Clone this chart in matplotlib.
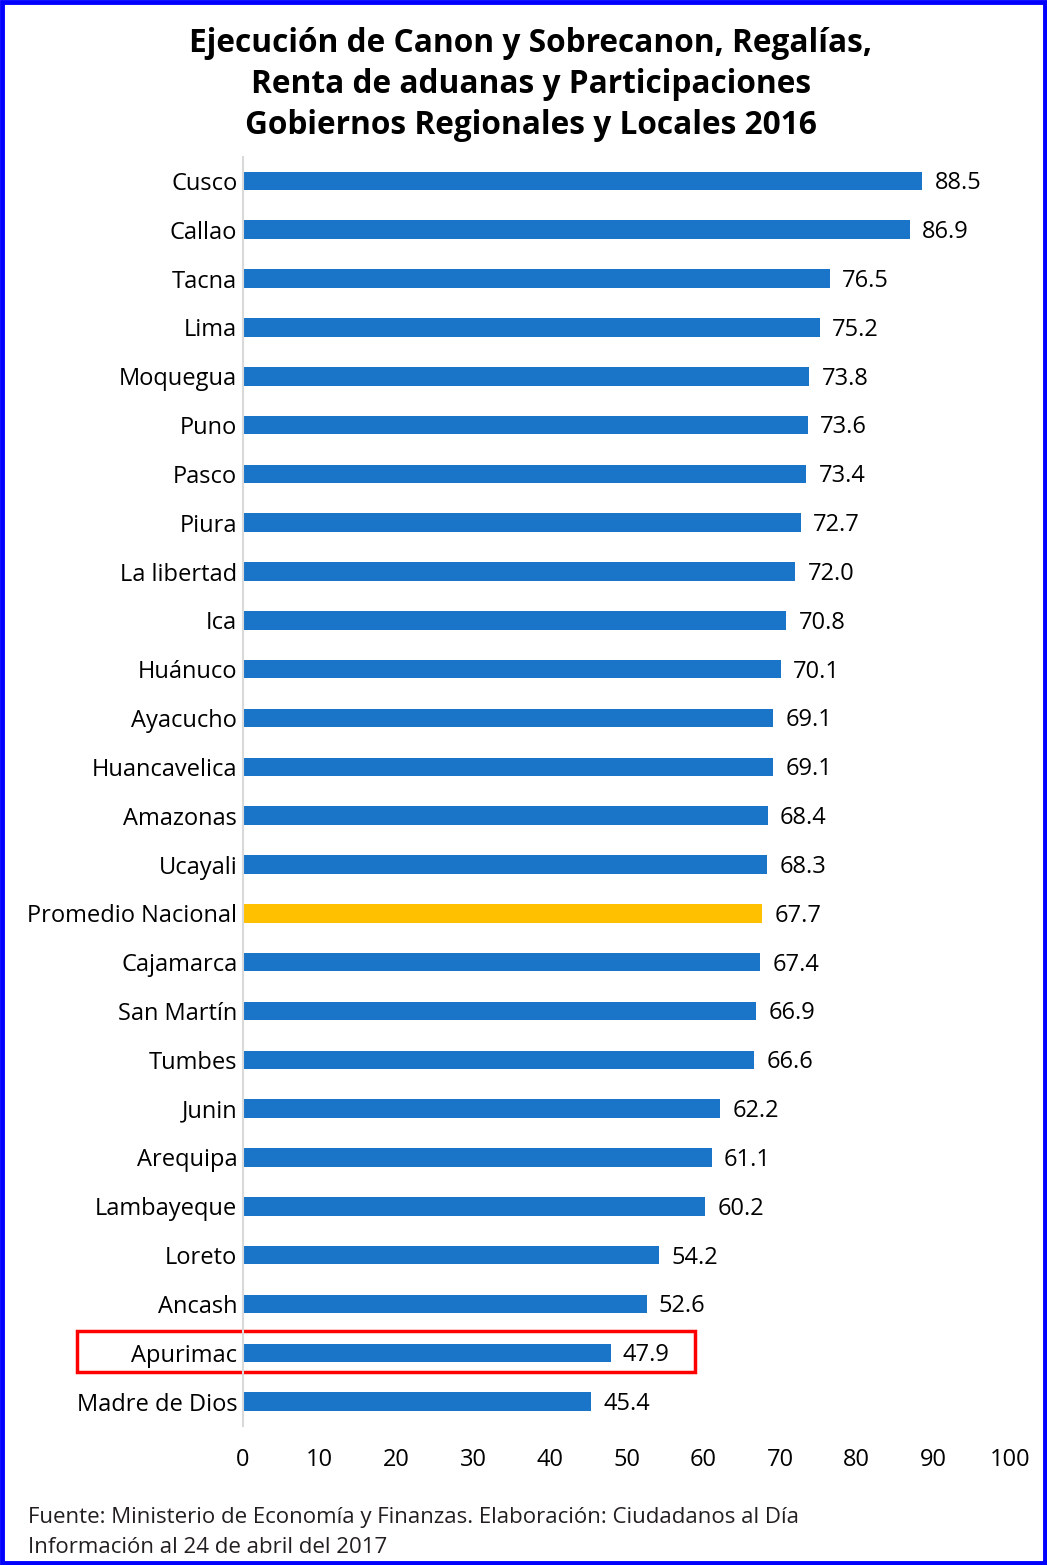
import matplotlib.pyplot as plt
from matplotlib.patches import Rectangle

plt.rcParams['font.family'] = ['Open Sans', 'DejaVu Sans']

# Data
regions = ["Cusco", "Callao", "Tacna", "Lima", "Moquegua", "Puno", "Pasco",
           "Piura", "La libertad", "Ica", "Huánuco", "Ayacucho", "Huancavelica",
           "Amazonas", "Ucayali", "Promedio Nacional", "Cajamarca", "San Martín",
           "Tumbes", "Junin", "Arequipa", "Lambayeque", "Loreto", "Ancash",
           "Apurimac", "Madre de Dios"]
values = [88.5, 86.9, 76.5, 75.2, 73.8, 73.6, 73.4, 72.7, 72.0, 70.8, 70.1,
          69.1, 69.1, 68.4, 68.3, 67.7, 67.4, 66.9, 66.6, 62.2, 61.1, 60.2,
          54.2, 52.6, 47.9, 45.4]
highlight_avg = "Promedio Nacional"
highlight_box = "Apurimac"

blue = "#1a75c9"
gold = "#ffc000"

fig = plt.figure(figsize=(10.47, 15.65), dpi=100)
ax = fig.add_axes([0.232, 0.0888, 0.733, 0.8112])

ypos = list(range(len(regions)))
colors = [gold if r == highlight_avg else blue for r in regions]
ax.barh(ypos, values, height=0.38, color=colors)

for y, v in zip(ypos, values):
    ax.text(v + 1.6, y + 0.05, f"{v:.1f}", va='center', ha='left', fontsize=17)

ax.set_xlim(0, 100)
ax.set_ylim(len(regions) - 0.5, -0.5)
ax.set_yticks(ypos)
ax.set_yticklabels(regions, fontsize=17)
ax.set_xticks(range(0, 101, 10))
ax.tick_params(axis='x', labelsize=17, length=0, pad=16)
ax.tick_params(axis='y', length=0, pad=4)
for s in ['top', 'right', 'bottom']:
    ax.spines[s].set_visible(False)
ax.spines['left'].set_color('#d9d9d9')
ax.spines['left'].set_linewidth(1.5)

# red box around Apurimac
i = regions.index(highlight_box)
ax.add_patch(Rectangle((-21.6, i - 0.45), 80.5, 0.84, fill=False,
                       edgecolor='#ff0000', lw=2.5, clip_on=False))

fig.text(0.507, 0.9828, "Ejecución de Canon y Sobrecanon, Regalías,\n"
         "Renta de aduanas y Participaciones\n"
         "Gobiernos Regionales y Locales 2016",
         ha='center', va='top', fontsize=22.8, fontweight='bold',
         linespacing=1.32)

fig.text(0.027, 0.0305, "Fuente: Ministerio de Economía y Finanzas. Elaboración: Ciudadanos al Día",
         ha='left', va='center', fontsize=16, color='#231f20')
fig.text(0.027, 0.0115, "Información al 24 de abril del 2017",
         ha='left', va='center', fontsize=16, color='#231f20')

# blue frame around the figure
fig.patches.append(Rectangle((0.002, 0.0013), 0.996, 0.9974, transform=fig.transFigure,
                             fill=False, edgecolor='#0000ff', lw=3.5))

fig.savefig("out.png", dpi=100)
